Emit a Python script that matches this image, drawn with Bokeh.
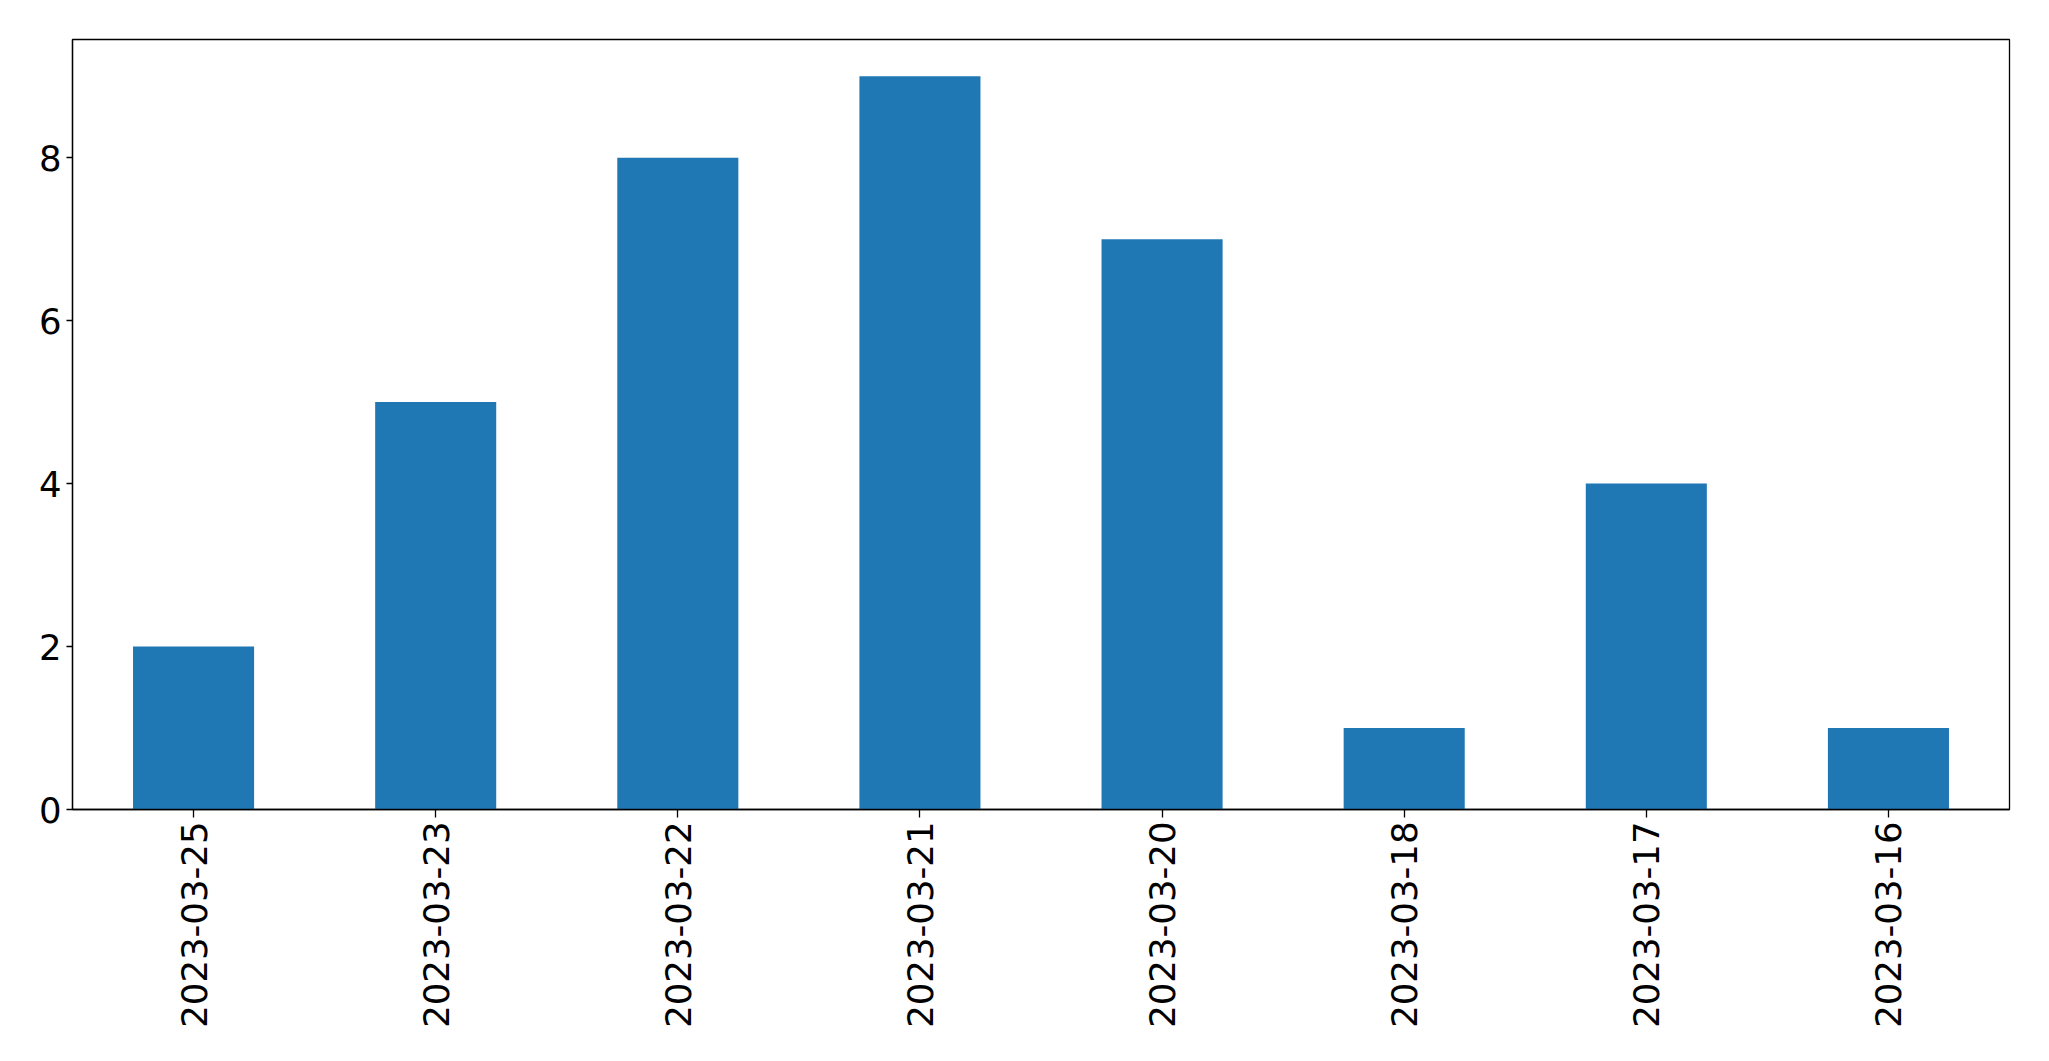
import math
from bokeh.plotting import figure
from bokeh.models import Range1d, FixedTicker, ColumnDataSource
from bokeh.embed import file_html
from bokeh.resources import INLINE

dates = ["2023-03-25", "2023-03-23", "2023-03-22", "2023-03-21",
         "2023-03-20", "2023-03-18", "2023-03-17", "2023-03-16"]
counts = [2, 5, 8, 9, 7, 1, 4, 1]
y_ticks = [0, 2, 4, 6, 8]

src = ColumnDataSource(data=dict(date=dates, count=counts))

p = figure(x_range=dates, y_range=Range1d(0, max(counts) * 1.05),
           width=2033, height=1045, output_backend="svg", toolbar_location=None,
           min_border_left=72, min_border_right=24, min_border_top=39, min_border_bottom=236)

p.vbar(x="date", top="count", width=0.5, source=src, color="#1f77b4", line_color=None)

p.xgrid.grid_line_color = None
p.ygrid.grid_line_color = None
p.outline_line_color = "black"
p.outline_line_width = 1.3
p.outline_line_alpha = 1.0

for ax in (p.xaxis, p.yaxis):
    ax.axis_line_color = "black"
    ax.axis_line_width = 1.3
    ax.major_tick_line_color = "black"
    ax.major_tick_line_width = 1.3
    ax.major_tick_in = 0
    ax.minor_tick_line_color = None
    ax.major_label_text_font = "DejaVu Sans"
    ax.major_label_text_font_size = "35.5px"
    ax.major_label_text_color = "black"

p.xaxis.major_tick_out = 8
p.xaxis.major_label_orientation = math.pi / 2
p.xaxis.major_label_standoff = 4
p.yaxis.major_tick_out = 6
p.yaxis.major_label_standoff = 5
p.yaxis.ticker = FixedTicker(ticks=y_ticks)

open("out.html", "w").write(file_html(p, INLINE))
